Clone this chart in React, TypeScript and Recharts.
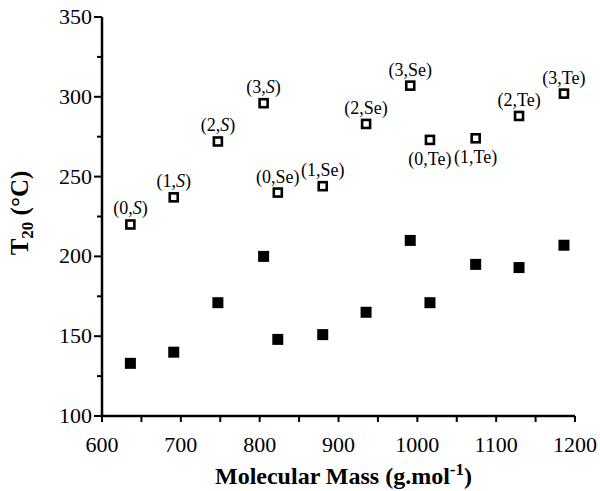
import React from 'react';
import { ScatterChart, Scatter, XAxis, YAxis } from 'recharts';

const masses = [636, 691, 747, 805, 823, 880, 935, 991, 1016, 1074, 1129, 1186];
const pointLabels = ['(0,S)', '(1,S)', '(2,S)', '(3,S)', '(0,Se)', '(1,Se)', '(2,Se)', '(3,Se)', '(0,Te)', '(1,Te)', '(2,Te)', '(3,Te)'];
const labelBelow = [false, false, false, false, false, false, false, false, true, true, false, false];
const t20Open = [220, 237, 272, 296, 240, 244, 283, 307, 273, 274, 288, 302];
const t20Filled = [133, 140, 171, 200, 148, 151, 165, 210, 171, 195, 193, 207];

const xTicks = [600, 650, 700, 750, 800, 850, 900, 950, 1000, 1050, 1100, 1150, 1200];
const yTicks = [100, 125, 150, 175, 200, 225, 250, 275, 300, 325, 350];

const FONT = '"Liberation Serif", "DejaVu Serif", serif';

const openData = masses.map((m, i) => ({ mass: m, t: t20Open[i], label: pointLabels[i], below: labelBelow[i] }));
const filledData = masses.map((m, i) => ({ mass: m, t: t20Filled[i] }));

function LabelText({ text }: { text: string }) {
  // S (sulfur) written in italics like the original
  const inner = text.slice(1, -1);
  const [n, el] = inner.split(',');
  return (
    <>
      ({n},{el === 'S' ? <tspan fontStyle="italic">S</tspan> : el})
    </>
  );
}

const OpenSquare = (props: any) => {
  const { cx, cy, payload } = props;
  if (cx == null || cy == null) return null;
  return (
    <g>
      <rect x={cx - 4} y={cy - 4} width={8} height={8} fill="#fff" stroke="#000" strokeWidth={2.6} />
      <text
        x={cx}
        y={payload.below ? cy + 25 : cy - 10}
        textAnchor="middle"
        fontFamily={FONT}
        fontSize={18}
        fill="#000"
      >
        <LabelText text={payload.label} />
      </text>
    </g>
  );
};

const FilledSquare = (props: any) => {
  const { cx, cy } = props;
  if (cx == null || cy == null) return null;
  return <rect x={cx - 5.5} y={cy - 5.5} width={11} height={11} fill="#000" />;
};

const XTick = (props: any) => {
  const { x, y, payload } = props;
  const major = payload.value % 100 === 0;
  return (
    <g>
      <line x1={x} y1={y} x2={x} y2={y + 6} stroke="#000" strokeWidth={2} />
      {major && (
        <text x={x} y={y + 36} textAnchor="middle" fontFamily={FONT} fontSize={22} fill="#000">
          {payload.value}
        </text>
      )}
    </g>
  );
};

const YTick = (props: any) => {
  const { x, y, payload } = props;
  const major = payload.value % 50 === 0;
  return (
    <g>
      <line x1={x} y1={y} x2={x - (major ? 8 : 5)} y2={y} stroke="#000" strokeWidth={2} />
      {major && (
        <text x={x - 10} y={y + 7} textAnchor="end" fontFamily={FONT} fontSize={22} fill="#000">
          {payload.value}
        </text>
      )}
    </g>
  );
};

export default function App() {
  return (
    <div style={{ position: 'absolute', left: 0, top: 0, width: 600, height: 491, background: '#fff' }}>
      <ScatterChart width={600} height={491} margin={{ top: 17, right: 25, bottom: 15, left: 40 }}>
        <XAxis
          type="number"
          dataKey="mass"
          domain={[600, 1200]}
          ticks={xTicks}
          interval={0}
          height={60}
          tickSize={0}
          tickMargin={0}
          tickLine={false}
          axisLine={{ stroke: '#000', strokeWidth: 2.5 }}
          tick={<XTick />}
          label={(p: any) => {
            const vb = p.viewBox;
            const cx = vb.x + vb.width / 2 + 5;
            return (
              <text x={cx} y={484} textAnchor="middle" fontFamily={FONT} fontSize={24} fontWeight="bold" fill="#000">
                Molecular Mass (g.mol
                <tspan fontSize={17} dy={-9}>-1</tspan>
                <tspan dy={9}>)</tspan>
              </text>
            );
          }}
        />
        <YAxis
          type="number"
          dataKey="t"
          domain={[100, 350]}
          ticks={yTicks}
          interval={0}
          width={62}
          tickSize={0}
          tickMargin={0}
          tickLine={false}
          axisLine={{ stroke: '#000', strokeWidth: 2.5 }}
          tick={<YTick />}
          label={() => (
            <text
              x={0}
              y={0}
              transform="translate(28, 213) rotate(-90)"
              textAnchor="middle"
              fontFamily={FONT}
              fontSize={25}
              fontWeight="bold"
              fill="#000"
            >
              T<tspan fontSize={17} dy={5}>20</tspan>
              <tspan dy={-5}> (°C)</tspan>
            </text>
          )}
        />
        <Scatter data={filledData} shape={<FilledSquare />} isAnimationActive={false} />
        <Scatter data={openData} shape={<OpenSquare />} isAnimationActive={false} />
      </ScatterChart>
    </div>
  );
}
